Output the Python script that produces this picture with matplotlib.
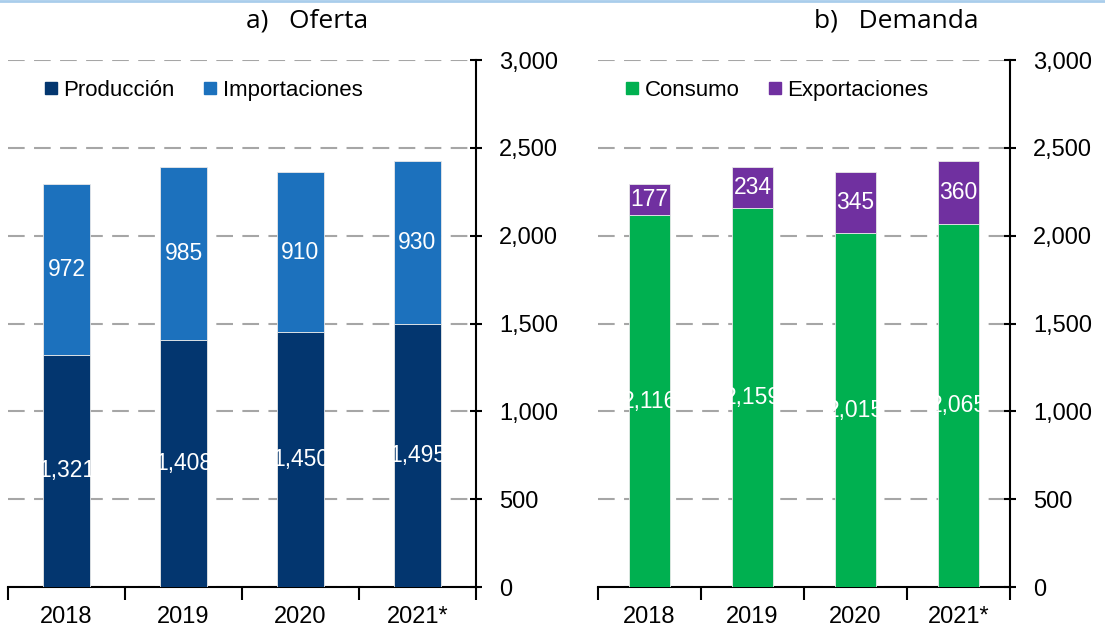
import matplotlib.pyplot as plt
import numpy as np
from matplotlib.lines import Line2D

years = ["2018", "2019", "2020", "2021*"]
produccion = [1321, 1408, 1450, 1495]
importaciones = [972, 985, 910, 930]
consumo = [2116, 2159, 2015, 2065]
exportaciones = [177, 234, 345, 360]

plt.rcParams['font.family'] = ['Liberation Sans', 'DejaVu Sans']

c_prod = '#03366F'
c_imp = '#1C71BD'
c_cons = '#00B050'
c_exp = '#7030A0'

fig = plt.figure(figsize=(11.05, 6.31), dpi=100)
ax1 = fig.add_axes([8 / 1105, 1 - 587 / 631, 468 / 1105, 527 / 631])
ax2 = fig.add_axes([598 / 1105, 1 - 587 / 631, 412 / 1105, 527 / 631])


def stacked(ax, base, top, c_base, c_top, lab_base, lab_top, leg_x):
    x = np.arange(len(years))
    ax.bar(x, base, width=0.4, color=c_base, zorder=3,
           edgecolor='#E8E8E8', linewidth=0.6)
    ax.bar(x, top, width=0.4, bottom=base, color=c_top,
           zorder=3, edgecolor='#E8E8E8', linewidth=0.6)
    for i in range(len(years)):
        ax.text(x[i], base[i] / 2, f"{base[i]:,}", color='white',
                ha='center', va='center', fontsize=16.5, zorder=4)
        ax.text(x[i], base[i] + top[i] / 2, f"{top[i]:,}", color='white',
                ha='center', va='center', fontsize=16.5, zorder=4)

    ax.set_xlim(-0.5, len(years) - 0.5)
    ax.set_ylim(0, 3000)
    ax.set_yticks(np.arange(0, 3001, 500))
    ax.yaxis.set_major_formatter(plt.FuncFormatter(lambda v, p: f"{int(v):,}"))
    ax.yaxis.tick_right()
    ax.tick_params(axis='y', direction='inout', length=9, width=1.5,
                   labelsize=17, pad=12)
    ax.set_xticks(x)
    ax.set_xticklabels(years, fontsize=17)
    ax.tick_params(axis='x', length=0, pad=14)
    ax.set_xticks(np.arange(-0.5, len(years)), minor=True)
    ax.tick_params(axis='x', which='minor', length=9, width=1.5,
                   direction='out')
    ax.grid(axis='y', color='#A6A6A6', linestyle=(0, (8, 4.5)), linewidth=1.5,
            zorder=0)
    for s in ['top', 'left']:
        ax.spines[s].set_visible(False)
    ax.spines['right'].set_linewidth(1.5)
    ax.spines['bottom'].set_linewidth(1.5)

    handles = [Line2D([], [], marker='s', linestyle='', color=c_base,
                      markersize=9),
               Line2D([], [], marker='s', linestyle='', color=c_top,
                      markersize=9)]
    ax.legend(handles, [lab_base, lab_top], loc='center left', frameon=False,
              ncol=2, fontsize=16, handletextpad=-0.05, columnspacing=1.0,
              handlelength=1.2, bbox_to_anchor=(leg_x, 0.943),
              borderaxespad=0.0, borderpad=0.0)


stacked(ax1, produccion, importaciones, c_prod, c_imp,
        "Producción", "Importaciones", 0.064)
stacked(ax2, consumo, exportaciones, c_cons, c_exp,
        "Consumo", "Exportaciones", 0.051)

fig.text(307 / 1105, 1 - 21 / 631, "a)   Oferta", ha='center', va='center',
         fontsize=19, family=['Open Sans', 'DejaVu Sans'])
fig.text(896 / 1105, 1 - 21 / 631, "b)   Demanda", ha='center', va='center',
         fontsize=19, family=['Open Sans', 'DejaVu Sans'])

# thin light-blue frame line along the top edge
fig.add_artist(Line2D([0, 1], [0.999, 0.999], color='#A9CDEB', linewidth=2,
                      transform=fig.transFigure))

fig.savefig("out.png", dpi=100)
